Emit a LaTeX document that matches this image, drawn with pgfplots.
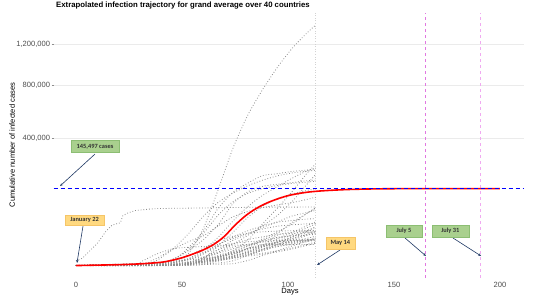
\documentclass[border=0pt]{standalone}
\usepackage{pgfplots}
\pgfplotsset{compat=1.18}
\usepackage{fontspec}
\setmainfont{Liberation Sans}
\newfontfamily\boxfont{Carlito}
\usetikzlibrary{arrows.meta}

\definecolor{gridgray}{RGB}{235,235,235}
\definecolor{ticktext}{RGB}{77,77,77}
\definecolor{ptgray}{RGB}{140,140,140}
\definecolor{boxgreen}{RGB}{169,208,142}
\definecolor{boxgreenline}{RGB}{140,190,115}
\definecolor{boxorange}{RGB}{255,217,128}
\definecolor{boxorangeline}{RGB}{245,197,104}
\definecolor{arrowblue}{RGB}{31,56,100}
\definecolor{vline1}{RGB}{225,120,225}
\definecolor{vline2}{RGB}{240,170,240}

\tikzset{
  lbl/.style={font=\boxfont\bfseries\fontsize{6.4}{7}\selectfont, text=black!80,
    inner sep=0pt, minimum height=12bp, anchor=center},
  grn/.style={lbl, fill=boxgreen, draw=boxgreenline, line width=0.4bp},
  org/.style={lbl, fill=boxorange, draw=boxorangeline, line width=0.4bp},
  arr/.style={draw=arrowblue, line width=0.6bp, -{Stealth[length=3bp,width=2.4bp]}},
}

% square-root y axis (signed, so that the lower padding can sit below zero)
\pgfplotsset{
  sqrt y/.style={
    y coord trafo/.code={\begingroup
      \pgfkeys{/pgf/fpu=true,/pgf/fpu/output format=fixed}%
      \pgfmathparse{##1<0 ? -sqrt(abs(##1)) : sqrt(abs(##1))}%
      \pgfmathsmuggle\pgfmathresult\endgroup},
    y coord inv trafo/.code={\begingroup
      \pgfkeys{/pgf/fpu=true,/pgf/fpu/output format=fixed}%
      \pgfmathparse{##1*abs(##1)}%
      \pgfmathsmuggle\pgfmathresult\endgroup},
  },
  country/.style={ptgray, dotted, line width=0.8bp, smooth, tension=0.4},
}

\begin{document}
\begin{tikzpicture}
\useasboundingbox (-53.74bp,-22.4bp) rectangle (480.26bp,277.6bp);
\begin{axis}[
    sqrt y,
    scale only axis,
    width=470.6bp, height=264.6bp,
    xmin=-10.5, xmax=211.5,
    ymin=-3552, ymax=1566500,
    axis line style={draw=none},
    xtick={0,50,100,150,200},
    ytick={400000,800000,1200000},
    yticklabels={{400,000},{800,000},{1,200,000}},
    ytick pos=left,
    ymajorgrids=true,
    grid style={gridgray, line width=0.5bp},
    xtick style={draw=none},
    ytick style={draw=gridgray!60!black, line width=0.4bp},
    tick align=outside,
    major tick length=2bp,
    /pgf/number format/assume math mode=true,
    ticklabel style={font=\fontsize{7.6}{8}\selectfont, text=ticktext},
    yticklabel style={inner sep=1.5bp},
    xticklabel style={inner sep=2.5bp},
    xlabel={Days},
    ylabel={Cumulative number of infected cases},
    label style={font=\fontsize{7.6}{8}\selectfont, text=black},
    xlabel style={at={(axis description cs:0.502,-0.0544)}, anchor=center},
    ylabel style={at={(axis description cs:-0.0886,0.501)}, anchor=center, rotate=0},
    clip=false,
]
% reference lines
\addplot[vline1, line width=0.8bp, dash pattern=on 3bp off 3bp] coordinates {(165,-3552) (165,1566500)};
\addplot[vline2, line width=0.8bp, dash pattern=on 3bp off 3bp] coordinates {(191,-3552) (191,1566500)};
\addplot[gray!35, line width=0.6bp, dotted] coordinates {(113,-3552) (113,1566500)};

% 40 countries, cumulative confirmed cases (day 0 = January 22)
\addplot[country] coordinates {(0,1)(39,75)(46,540)(53,3500)(60,33000)(67,140000)(74,337000)(81,555000)(88,760000)(95,965000)(102,1160000)(109,1330000)(113,1420000)};
\addplot[country] coordinates {(0,0)(39,0)(46,17)(53,63)(60,367)(67,1534)(74,5389)(81,15770)(88,42853)(95,80949)(102,134687)(109,209688)(113,252245)};
\addplot[country] coordinates {(0,0)(9,2)(39,36)(46,273)(53,1144)(60,5741)(67,19522)(74,48440)(81,85206)(88,121172)(95,153000)(102,187842)(109,220449)(113,234440)};
\addplot[country] coordinates {(0,0)(39,84)(46,673)(53,7798)(60,28603)(67,80110)(74,131646)(81,166831)(88,198674)(95,207634)(102,217466)(109,224350)(113,229540)};
\addplot[country] coordinates {(0,0)(31,62)(35,453)(39,1694)(46,7375)(53,24747)(60,59138)(67,97689)(74,128948)(81,156363)(88,178972)(95,197675)(102,210717)(109,219070)(113,223096)};
\addplot[country] coordinates {(0,0)(39,2)(46,25)(53,200)(60,1593)(67,4256)(74,11130)(81,22169)(88,38654)(95,61888)(102,101147)(109,162699)(113,203165)};
\addplot[country] coordinates {(0,0)(39,130)(46,1126)(53,5437)(60,16176)(67,40708)(74,93790)(81,133670)(88,154097)(95,162220)(102,168925)(109,176970)(113,178994)};
\addplot[country] coordinates {(0,0)(39,130)(46,1040)(53,5795)(60,24873)(67,62095)(74,100123)(81,127854)(88,145184)(95,157641)(102,165664)(109,171324)(113,174098)};
\addplot[country] coordinates {(0,0)(53,6)(60,1236)(67,9217)(74,27069)(81,56956)(88,86306)(95,110130)(102,126045)(109,138657)(113,144749)};
\addplot[country] coordinates {(0,0)(28,2)(31,28)(35,139)(39,978)(46,6566)(53,13938)(60,21638)(67,38309)(74,58226)(81,71686)(88,82211)(95,90481)(102,97424)(109,107603)(113,114533)};
\addplot[country, sharp plot] coordinates {(0,548)(3,1320)(7,6087)(10,11950)(14,28274)(17,40150)(21,45220)(22,60368)(24,66900)(28,74600)(35,78500)(39,79968)(53,80977)(67,82122)(88,83805)(113,84029)};
\addplot[country] coordinates {(0,0)(39,3)(46,40)(53,107)(60,396)(67,1024)(74,4289)(81,9205)(88,17615)(95,27890)(102,42533)(109,67161)(113,81970)};
\addplot[country] coordinates {(0,0)(46,0)(53,43)(60,363)(67,852)(74,2281)(81,7519)(88,15628)(95,25331)(102,45928)(109,67307)(113,80604)};
\addplot[country] coordinates {(0,0)(39,24)(46,60)(53,250)(60,1465)(67,6280)(74,15756)(81,24298)(88,35633)(95,46884)(102,60504)(109,69156)(113,74613)};
\addplot[country] coordinates {(0,0)(39,2)(46,200)(53,886)(60,3401)(67,10836)(74,19691)(81,29647)(88,38496)(95,46134)(102,49906)(109,52997)(113,54288)};
\addplot[country] coordinates {(0,0)(46,11)(53,103)(60,511)(67,1203)(74,2385)(81,4462)(88,9362)(95,17522)(102,27011)(109,39048)(113,46869)};
\addplot[country] coordinates {(0,0)(46,7)(53,41)(60,251)(67,848)(74,2143)(81,4661)(88,8261)(95,14677)(102,23471)(109,35022)(113,42595)};
\addplot[country] coordinates {(0,0)(39,10)(46,265)(53,1138)(60,4216)(67,10930)(74,17953)(81,25746)(88,32838)(95,38040)(102,40770)(109,42788)(113,43681)};
\addplot[country] coordinates {(0,0)(46,7)(53,75)(60,632)(67,2139)(74,4471)(81,6927)(88,9730)(95,13331)(102,19663)(109,28866)(113,37040)};
\addplot[country] coordinates {(0,0)(39,4)(46,6)(53,53)(60,776)(67,1597)(74,3277)(81,5374)(88,8348)(95,13328)(102,20186)(109,30334)(113,35788)};
\addplot[country] coordinates {(0,0)(39,1)(46,14)(53,28)(60,789)(67,1924)(74,3646)(81,7257)(88,10128)(95,22719)(102,27464)(109,29071)(113,30502)};
\addplot[country] coordinates {(0,0)(39,3)(46,15)(53,401)(60,494)(67,634)(74,1832)(81,3428)(88,5448)(95,10287)(102,15551)(109,22520)(113,28272)};
\addplot[country] coordinates {(0,0)(39,27)(46,337)(53,2200)(60,7245)(67,14829)(74,21100)(81,25415)(88,27944)(95,29164)(102,29905)(109,30305)(113,30514)};
\addplot[country] coordinates {(0,0)(39,14)(46,203)(53,1022)(60,1821)(67,3700)(74,6830)(81,10483)(88,14385)(95,18640)(102,22317)(109,26322)(113,28582)};
\addplot[country] coordinates {(0,0)(46,6)(53,36)(60,76)(67,152)(74,562)(81,2578)(88,6264)(95,11289)(102,17489)(109,23906)(113,28681)};
\addplot[country] coordinates {(0,0)(39,0)(46,30)(53,245)(60,1600)(67,5962)(74,11278)(81,16585)(88,20206)(95,23864)(102,25351)(109,27268)(113,28132)};
\addplot[country] coordinates {(0,1)(14,28)(28,84)(39,106)(46,150)(53,226)(60,455)(67,844)(74,1309)(81,2532)(88,6588)(95,13624)(102,18205)(109,23336)(113,26098)};
\addplot[country] coordinates {(0,0)(39,1)(46,21)(53,169)(60,906)(67,2615)(74,4994)(81,9655)(88,15251)(95,19648)(102,21506)(109,22996)(113,23827)};
\addplot[country] coordinates {(0,0)(7,4)(39,21)(46,45)(53,98)(60,153)(67,611)(74,1799)(81,4123)(88,6781)(95,10349)(102,14163)(109,18198)(113,21084)};
\addplot[country] coordinates {(0,0)(53,5)(60,27)(67,48)(74,88)(81,621)(88,2456)(95,5416)(102,9455)(109,14657)(113,18863)};
\addplot[country] coordinates {(0,0)(46,11)(53,119)(60,634)(67,1862)(74,4102)(81,6674)(88,9287)(95,11617)(102,13693)(109,16006)(113,17615)};
\addplot[country] coordinates {(0,0)(53,3)(60,47)(67,475)(74,1319)(81,3102)(88,5449)(95,9009)(102,11913)(109,15232)(113,16847)};
\addplot[country] coordinates {(0,0)(46,6)(53,117)(60,514)(67,1285)(74,2273)(81,4241)(88,6575)(95,8882)(102,11192)(109,14032)(113,16006)};
\addplot[country] coordinates {(0,0)(39,3)(46,15)(53,131)(60,433)(67,1815)(74,3864)(81,6633)(88,8746)(95,11036)(102,13163)(109,15131)(113,16247)};
\addplot[country] coordinates {(0,0)(39,10)(46,39)(53,193)(60,1071)(67,4247)(74,8430)(81,11145)(88,13362)(95,15443)(102,16185)(109,16506)(113,16607)};
\addplot[country] coordinates {(0,2)(14,25)(28,85)(39,256)(46,502)(53,839)(60,1086)(67,1866)(74,3139)(81,7255)(88,10797)(95,13385)(102,15078)(109,15798)(113,16120)};
\addplot[country] coordinates {(0,0)(39,10)(46,104)(53,860)(60,3244)(67,8813)(74,11983)(81,13945)(88,14749)(95,15225)(102,15621)(109,15882)(113,16007)};
\addplot[country] coordinates {(0,0)(46,1)(53,34)(60,231)(67,702)(74,1485)(81,2776)(88,3792)(95,5379)(102,7668)(109,11063)(113,13610)};
\addplot[country] coordinates {(0,1)(14,23)(28,51)(31,433)(35,1766)(39,3736)(46,7134)(53,8162)(60,8897)(67,9583)(74,10237)(81,10512)(88,10674)(95,10738)(102,10801)(109,10909)(113,11037)};
\addplot[country] coordinates {(0,0)(46,3)(53,51)(60,274)(67,1280)(74,1655)(81,2173)(88,3158)(95,4546)(102,6783)(109,10015)(113,12074)};

% grand average trajectory
\addplot[red, line width=1.6bp, smooth] coordinates {
 (0,0)(10,5)(20,20)(30,70)(40,260)(45,650)(50,1500)(55,3200)(60,6000)(65,11000)
 (70,21000)(75,40000)(80,61000)(85,80000)(90,96000)(95,109000)(100,120000)
 (105,127500)(110,133000)(115,136500)(120,139000)(125,141000)(130,142500)
 (140,144300)(150,145100)(160,145400)(170,145480)(180,145490)(200,145497)};
\addplot[blue, line width=1bp, dash pattern=on 4bp off 3bp] coordinates {(-10.5,145497) (211.5,145497)};

% annotations
\draw[arr] (rel axis cs:0.0877,0.467) -- (rel axis cs:0.0133,0.346);
\draw[arr] (rel axis cs:0.0622,0.195) -- (rel axis cs:0.0494,0.0552);
\draw[arr] (rel axis cs:0.6083,0.1043) -- (rel axis cs:0.5594,0.0476);
\draw[arr] (rel axis cs:0.7464,0.1497) -- (rel axis cs:0.7910,0.0816);
\draw[arr] (rel axis cs:0.8484,0.1497) -- (rel axis cs:0.9081,0.0816);
\node[grn, minimum width=48bp] at (rel axis cs:0.0877,0.4955) {145,497 cases};
\node[org, minimum width=39bp, minimum height=10.5bp] at (rel axis cs:0.0654,0.2177) {January 22};
\node[org, minimum width=29bp] at (rel axis cs:0.609,0.1308) {May 14};
\node[grn, minimum width=36bp] at (rel axis cs:0.7443,0.1761) {July 5};
\node[grn, minimum width=37bp] at (rel axis cs:0.8427,0.1761) {July 31};
\end{axis}
\node[anchor=west, inner sep=0pt, font=\bfseries\fontsize{7.8}{9}\selectfont] at (2.3bp,271.6bp)
  {Extrapolated infection trajectory for grand average over 40 countries};
\end{tikzpicture}
\end{document}
